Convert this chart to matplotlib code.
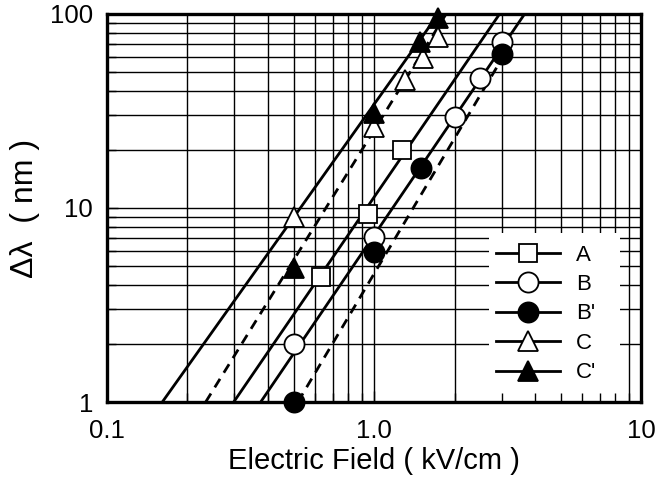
import matplotlib
matplotlib.use('Agg')
import matplotlib.pyplot as plt
from matplotlib.lines import Line2D
from matplotlib.patches import Rectangle

plt.rcParams['font.family'] = ['Liberation Sans', 'DejaVu Sans']

# measured points (field kV/cm, delta lambda nm)
a_x = [0.63, 0.95, 1.27]
a_y = [4.4, 9.3, 20.0]
b_x = [0.5, 1.0, 2.0, 2.5, 3.0]
b_y = [2.0, 7.1, 29.5, 47.0, 72.0]
bp_x = [0.5, 1.0, 1.5, 3.0]
bp_y = [1.0, 5.9, 16.0, 62.0]
c_x = [0.5, 1.0, 1.3, 1.53, 1.74]
c_y = [9.0, 26.0, 45.6, 59.0, 76.0]
cp_x = [0.5, 1.0, 1.48, 1.74]
cp_y = [4.9, 31.0, 72.0, 95.0]

# fitted lines (end points)
fit_c_x, fit_c_y = [0.161, 1.74], [1, 100]
fit_cp_x, fit_cp_y = [0.234, 1.86], [1, 100]
fit_a_x, fit_a_y = [0.298, 2.95], [1, 100]
fit_b_x, fit_b_y = [0.376, 3.66], [1, 100]
fit_bp_x, fit_bp_y = [0.518, 3.1], [1, 63]

labels = ['A', 'B', "B'", 'C', "C'"]

fig = plt.figure(figsize=(6.61, 4.84), dpi=100)
ax = fig.add_axes([0.162, 0.1694, 0.808, 0.8017])
ax.set_xscale('log')
ax.set_yscale('log')
ax.set_xlim(0.1, 10)
ax.set_ylim(1, 100)

# grid drawn by hand so the legend box can sit over it but under the ticks
for dec in (0.1, 1.0):
    for k in range(1, 10):
        ax.axvline(dec * k, color='k', lw=1.0, zorder=1)
for dec in (1, 10):
    for k in range(1, 10):
        ax.axhline(dec * k, color='k', lw=1.0, zorder=1)

lw = 2.0
ax.plot(fit_c_x, fit_c_y, '-', color='k', lw=lw, zorder=2)
ax.plot(fit_cp_x, fit_cp_y, '--', color='k', lw=lw, dashes=(3.6, 2.6), zorder=2)
ax.plot(fit_a_x, fit_a_y, '-', color='k', lw=lw, zorder=2)
ax.plot(fit_b_x, fit_b_y, '-', color='k', lw=lw, zorder=2)
ax.plot(fit_bp_x, fit_bp_y, '--', color='k', lw=lw, dashes=(3.6, 2.6), zorder=2)

mew = 1.3
styles = [
    dict(marker='s', ms=13, mfc='white'),
    dict(marker='o', ms=14.5, mfc='white'),
    dict(marker='o', ms=14.5, mfc='k'),
    dict(marker='^', ms=14.5, mfc='white'),
    dict(marker='^', ms=14.5, mfc='k'),
]
series = [(a_x, a_y), (b_x, b_y), (bp_x, bp_y), (c_x, c_y), (cp_x, cp_y)]
for (xs, ys), st in zip(series, styles):
    ax.plot(xs, ys, linestyle='none', mec='k', mew=mew, clip_on=False, zorder=3, **st)

# white legend box
ax.add_patch(Rectangle((0.715, 0.0), 0.245, 0.436, transform=ax.transAxes,
                       fc='white', ec='none', zorder=2.2))
handles = [Line2D([], [], color='k', lw=2.0, mec='k', mew=mew, **st) for st in styles]
leg = ax.legend(handles, labels, loc='center left', bbox_to_anchor=(0.728, 0.227),
                frameon=False, fontsize=16, handlelength=2.9, handletextpad=0.7,
                labelspacing=0.38, borderpad=0, borderaxespad=0)
leg.set_zorder(2.3)

ax.set_axisbelow(False)
ax.set_xticks([0.1, 1.0, 10], ['0.1', '1.0', '10'])
ax.set_yticks([1, 10, 100], ['1', '10', '100'])
ax.tick_params(which='both', direction='in', labelsize=18.5, width=1.0)
ax.tick_params(axis='x', which='major', length=8, pad=12)
ax.tick_params(axis='x', which='minor', length=6.5)
ax.tick_params(axis='y', which='major', length=8, pad=10)
ax.tick_params(axis='y', which='minor', length=6.5, labelleft=False)
ax.xaxis.set_minor_formatter(matplotlib.ticker.NullFormatter())
ax.yaxis.set_minor_formatter(matplotlib.ticker.NullFormatter())
for sp in ax.spines.values():
    sp.set_linewidth(2.4)

ax.set_xlabel('Electric Field ( kV/cm )', fontsize=21, labelpad=3)
ax.set_ylabel('\u0394\u03bb  ( nm )', fontsize=23, labelpad=7)

fig.savefig('out.png', dpi=100)
